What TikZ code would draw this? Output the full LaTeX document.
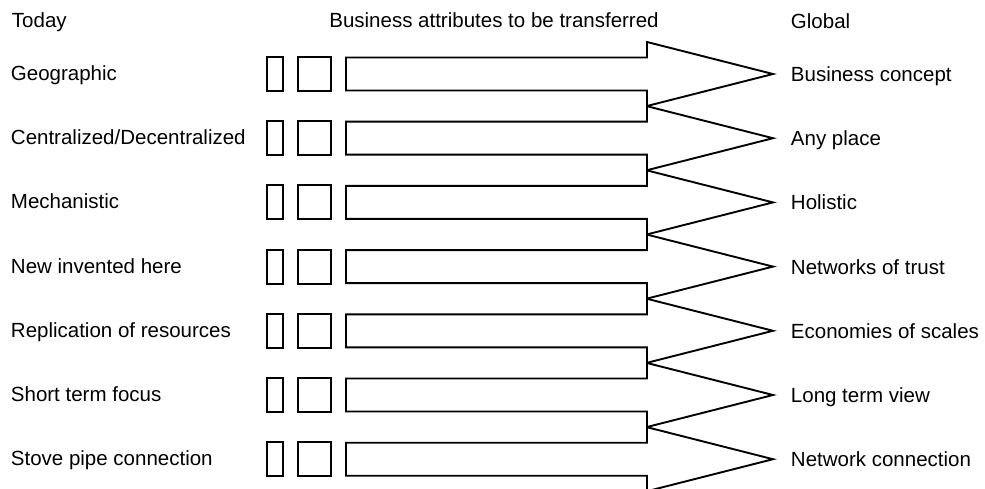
\documentclass[tikz,border=0pt]{standalone}
\usepackage{fontspec}
\setmainfont{Liberation Sans}
\begin{document}
\begin{tikzpicture}[x=1pt,y=-1pt,line width=1.9pt,line join=miter,
  txt/.style={font=\fontsize{20.5}{24}\selectfont,inner sep=0pt,anchor=base west},
  htxt/.style={font=\fontsize{20.5}{24}\selectfont,inner sep=0pt,anchor=base},
  boxA/.style={draw,inner sep=0pt,minimum width=16pt,minimum height=34pt},
  boxB/.style={draw,inner sep=0pt,minimum width=33pt,minimum height=34pt},
  bigarrow/.style={draw}]
\useasboundingbox (0,0) rectangle (985,489);
\clip (0,0) rectangle (985,489);
% headers
\node[txt] (today) at (11,28) {Today};
\node[htxt] (middle) at (494,28) {Business attributes to be transferred};
\node[txt] (global) at (790,29) {Global};
% rows
\foreach \i in {1,...,7}{
  \pgfmathsetmacro\c{74+64.2*(\i-1)}
  \node[boxA] (a\i) at (275,\c) {};
  \node[boxB] (b\i) at (314.5,\c) {};
  \coordinate (tip\i) at (773,\c);
  \coordinate (L\i) at (10,\c+6.5);
  \coordinate (R\i) at (790,\c+7.5);
  \draw[bigarrow] (647,\c-32) -- (tip\i) -- (647,\c+32) -- (647,\c+16.5)
     -- (346,\c+16.5) -- (346,\c-16.5) -- (647,\c-16.5) -- cycle;
}
% left labels
\node[txt] (l1) at (L1) {Geographic};
\node[txt] (l2) at (L2) {Centralized/Decentralized};
\node[txt] (l3) at (L3) {Mechanistic};
\node[txt] (l4) at (L4) {New invented here};
\node[txt] (l5) at (L5) {Replication of resources};
\node[txt] (l6) at (L6) {Short term focus};
\node[txt] (l7) at (L7) {Stove pipe connection};
% right labels
\node[txt] (r1) at (R1) {Business concept};
\node[txt] (r2) at (R2) {Any place};
\node[txt] (r3) at (R3) {Holistic};
\node[txt] (r4) at (R4) {Networks of trust};
\node[txt] (r5) at (R5) {Economies of scales};
\node[txt] (r6) at (R6) {Long term view};
\node[txt] (r7) at (R7) {Network connection};
\end{tikzpicture}
\end{document}
